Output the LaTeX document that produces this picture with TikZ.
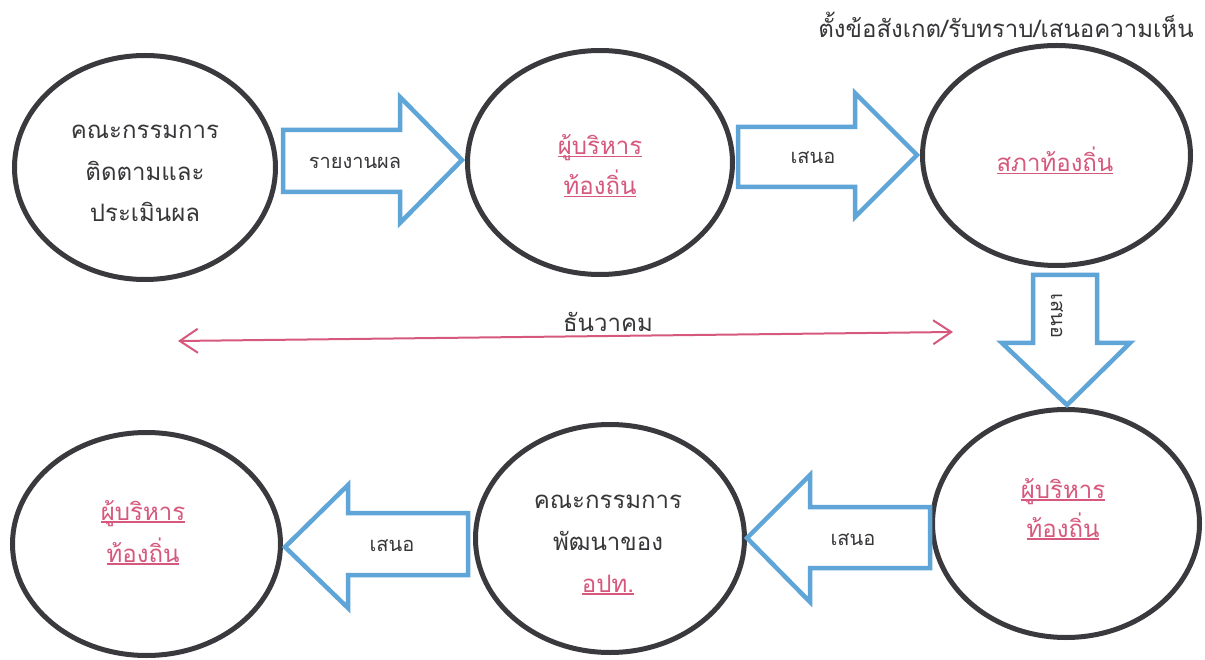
\documentclass[tikz,border=0pt]{standalone}
\usepackage{fontspec}
\newfontfamily\thai[Script=Thai]{Loma}
\usetikzlibrary{shapes.geometric,arrows.meta}
\definecolor{ringc}{RGB}{58,58,62}
\definecolor{bluec}{RGB}{95,165,215}
\definecolor{pinkc}{RGB}{214,88,124}
\definecolor{textc}{RGB}{55,55,58}
\newsavebox\ulbox
\newcommand\ulx[1]{\sbox\ulbox{#1}\rlap{\raisebox{-2.5pt}{\rule{\wd\ulbox}{1.2pt}}}\usebox\ulbox}
\begin{document}
\begin{tikzpicture}[x=1pt,y=-1pt,
  ring/.style={ellipse, draw=ringc, line width=5pt, inner sep=0pt},
  blockarrow/.style={draw=bluec, line width=4.5pt, fill=white, line join=miter},
  txt/.style={font=\thai\fontsize{24}{24}\selectfont, text=textc, inner sep=0pt, anchor=base},
  ptxt/.style={txt, text=pinkc},
  atxt/.style={font=\thai\fontsize{20}{20}\selectfont, text=textc, inner sep=0pt}]
\useasboundingbox (0,0) rectangle (1205,660);
\fill[white] (0,0) rectangle (1205,660);
% ellipses
\node[ring, minimum width=261pt, minimum height=224pt] (e1) at (145,167.5) {};
\node[ring, minimum width=265pt, minimum height=224pt] (e2) at (600,162.5) {};
\node[ring, minimum width=268pt, minimum height=220pt] (e3) at (1056.5,155.5) {};
\node[ring, minimum width=267pt, minimum height=228pt] (e4) at (1066,523.5) {};
\node[ring, minimum width=269pt, minimum height=228pt] (e5) at (610,538.5) {};
\node[ring, minimum width=268pt, minimum height=223pt] (e6) at (146.5,544) {};
% ellipse texts
\node[txt] (t1a) at (145,139) {คณะกรรมการ};
\node[txt] (t1b) at (145,181) {ติดตามและ};
\node[txt] (t1c) at (145,222) {ประเมินผล};
\node[ptxt] (t2a) at (600,155) {\ulx{ผู้บริหาร}};
\node[ptxt] (t2b) at (600,195) {\ulx{ท้องถิ่น}};
\node[ptxt] (t3a) at (1055,172) {\ulx{สภาท้องถิ่น}};
\node[ptxt] (t4a) at (1063,498) {\ulx{ผู้บริหาร}};
\node[ptxt] (t4b) at (1063,537) {\ulx{ท้องถิ่น}};
\node[txt] (t5a) at (608,508) {คณะกรรมการ};
\node[txt] (t5b) at (608,550) {พัฒนาของ};
\node[ptxt] (t5c) at (608,592) {\ulx{อปท.}};
\node[ptxt] (t6a) at (143,520) {\ulx{ผู้บริหาร}};
\node[ptxt] (t6b) at (143,562) {\ulx{ท้องถิ่น}};
% top note
\node[txt] (note) at (1006,38) {ตั้งข้อสังเกต/รับทราบ/เสนอความเห็น};
% block arrows
\draw[blockarrow] (283,130) -- (400,130) -- (400,97) -- (462,160) -- (400,223) -- (400,192) -- (283,192) -- cycle;
\node[atxt] (a1) at (355,163) {รายงานผล};
\draw[blockarrow] (738,127) -- (855,127) -- (855,93) -- (917,155) -- (855,217) -- (855,187) -- (738,187) -- cycle;
\node[atxt] (a2) at (813,158) {เสนอ};
\draw[blockarrow] (1033,275) -- (1033,343) -- (1002,343) -- (1067,405) -- (1130,343) -- (1097,343) -- (1097,275) -- cycle;
\node[atxt, rotate=-90] (a3) at (1057,316) {เสนอ};
\draw[blockarrow] (930,507) -- (810,507) -- (810,475) -- (747,538) -- (810,602) -- (810,568) -- (930,568) -- cycle;
\node[atxt] (a4) at (853,540) {เสนอ};
\draw[blockarrow] (468,513) -- (348,513) -- (348,485) -- (285,547) -- (348,608) -- (348,575) -- (468,575) -- cycle;
\node[atxt] (a5) at (392,546) {เสนอ};
% time span
\coordinate (ls) at (178,341);
\coordinate (le) at (953,332);
\draw[pinkc, line width=2pt, {Straight Barb[length=18pt,width=24pt]}-{Straight Barb[length=18pt,width=24pt]}] (ls) -- (le);
\node[txt] (dec) at (608,331) {ธันวาคม};
\end{tikzpicture}
\end{document}
